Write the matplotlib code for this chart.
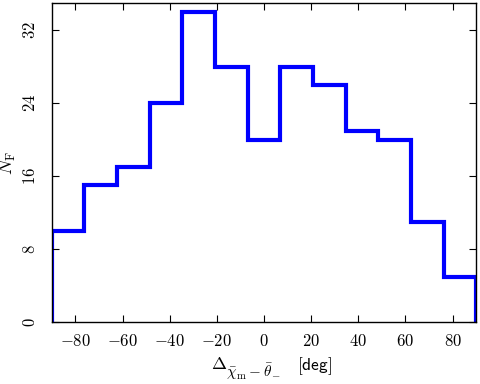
import numpy as np
import matplotlib
matplotlib.use("Agg")
import matplotlib.pyplot as plt

plt.rcParams["mathtext.fontset"] = "cm"
plt.rcParams["font.family"] = "serif"
plt.rcParams["font.serif"] = ["cmr10", "DejaVu Serif"]

# histogram counts per bin, bins span -90..90 deg
counts = [10, 15, 17, 24, 34, 28, 20, 28, 26, 21, 20, 11, 5]
bin_lo, bin_hi = -90, 90
x_ticks = [-80, -60, -40, -20, 0, 20, 40, 60, 80]
y_ticks = [0, 8, 16, 24, 32]

edges = np.linspace(bin_lo, bin_hi, len(counts) + 1)

W, H = 480, 384
fig = plt.figure(figsize=(W / 100, H / 100), dpi=100)
ax = fig.add_axes([0.108, 0.161, 0.884, 0.831])

ax.stairs(counts, edges, baseline=0, fill=False, color="#0000ff", linewidth=3)

ax.set_xlim(bin_lo, bin_hi)
ax.set_ylim(0, 35)

ax.set_xticks(x_ticks)
ax.set_xticklabels([r"$%d$" % v for v in x_ticks], fontsize=12)
ax.set_yticks(y_ticks)
ax.set_yticklabels([r"$%d$" % v for v in y_ticks], fontsize=12,
                   rotation=90, va="center")

ax.tick_params(direction="in", top=True, right=True, length=5, width=0.8)
ax.tick_params(axis="x", pad=8)
ax.tick_params(axis="y", pad=10)
for sp in ax.spines.values():
    sp.set_linewidth(1.0)


# x label built from pieces so the subscript can be larger (TeX-like)
def px(x, y):
    return x / W, 1 - y / H


fig.text(*px(211, 369), r"$\Delta$", fontsize=13, va="baseline", ha="left")
fig.text(*px(226, 377), r"$\bar{\chi}_{\rm m}-\bar{\theta}_{-}$",
         fontsize=11, va="baseline", ha="left")
fig.text(*px(297, 370), r"$\mathsf{[deg]}$", fontsize=12.5,
         va="baseline", ha="left")

ax.set_ylabel(r"$N_{\rm F}$", fontsize=13, labelpad=3)

fig.savefig("out.png", dpi=100)
